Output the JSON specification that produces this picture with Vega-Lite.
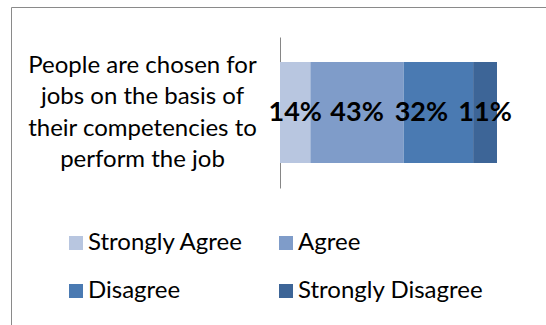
{
  "$schema": "https://vega.github.io/schema/vega-lite/v6.json",
  "width": 535,
  "height": 318,
  "padding": {"left": 11, "top": 7, "right": 0, "bottom": 0},
  "autosize": {"type": "none"},
  "config": {
    "view": {"stroke": "#8a8a8a", "strokeWidth": 1},
    "font": "Lato"
  },
  "data": {
    "values": [
      {"question": "People are chosen for\njobs on the basis of\ntheir competencies to\nperform the job", "response": "Strongly Agree", "share": 0.14, "rank": 1},
      {"question": "People are chosen for\njobs on the basis of\ntheir competencies to\nperform the job", "response": "Agree", "share": 0.43, "rank": 2},
      {"question": "People are chosen for\njobs on the basis of\ntheir competencies to\nperform the job", "response": "Disagree", "share": 0.32, "rank": 3},
      {"question": "People are chosen for\njobs on the basis of\ntheir competencies to\nperform the job", "response": "Strongly Disagree", "share": 0.11, "rank": 4}
    ]
  },
  "encoding": {
    "y": {
      "field": "question",
      "type": "nominal",
      "scale": {"range": [30, 181], "paddingInner": 0, "paddingOuter": 0.2475},
      "axis": {
        "title": null,
        "offset": -269,
        "ticks": false,
        "tickSize": 0,
        "grid": false,
        "labelPadding": 138,
        "labelAlign": "center",
        "labelBaseline": "middle",
        "labelOffset": -47,
        "labelLimit": 0,
        "labelFontSize": 24,
        "labelLineHeight": 31.5,
        "labelColor": "#000000",
        "domainColor": "#868686",
        "domainWidth": 1,
        "labelExpr": "split(datum.label, '\\n')"
      }
    }
  },
  "layer": [
    {
      "mark": {"type": "bar"},
      "encoding": {
        "x": {"field": "share", "type": "quantitative", "stack": "zero", "scale": {"domain": [0, 1], "range": [269, 486]}, "axis": null},
        "order": {"field": "rank", "type": "quantitative"},
        "color": {
          "field": "response",
          "type": "nominal",
          "scale": {
            "domain": ["Strongly Agree", "Agree", "Disagree", "Strongly Disagree"],
            "range": ["#B8C6E0", "#7F9CC9", "#4A7AB2", "#3D6597"]
          },
          "legend": {
            "title": null,
            "orient": "none",
            "direction": "horizontal",
            "legendX": 53,
            "legendY": 224,
            "columns": 2,
            "symbolType": "square",
            "symbolSize": 196,
            "symbolStrokeWidth": 0,
            "symbolOpacity": 1,
            "labelFontSize": 24,
            "labelOffset": 0,
            "labelColor": "#000000",
            "labelLimit": 0,
            "columnPadding": 30,
            "rowPadding": 24,
            "padding": 0
          }
        }
      }
    },
    {
      "mark": {
        "type": "text",
        "fontWeight": "bold",
        "fontSize": 27,
        "color": "#000000",
        "baseline": "middle",
        "dx": {"expr": "datum.response == 'Disagree' ? -17 : 0"}
      },
      "encoding": {
        "x": {"field": "share", "type": "quantitative", "stack": "zero", "bandPosition": 0.5},
        "order": {"field": "rank", "type": "quantitative"},
        "text": {"field": "share", "type": "quantitative", "format": ".0%"}
      }
    }
  ]
}
